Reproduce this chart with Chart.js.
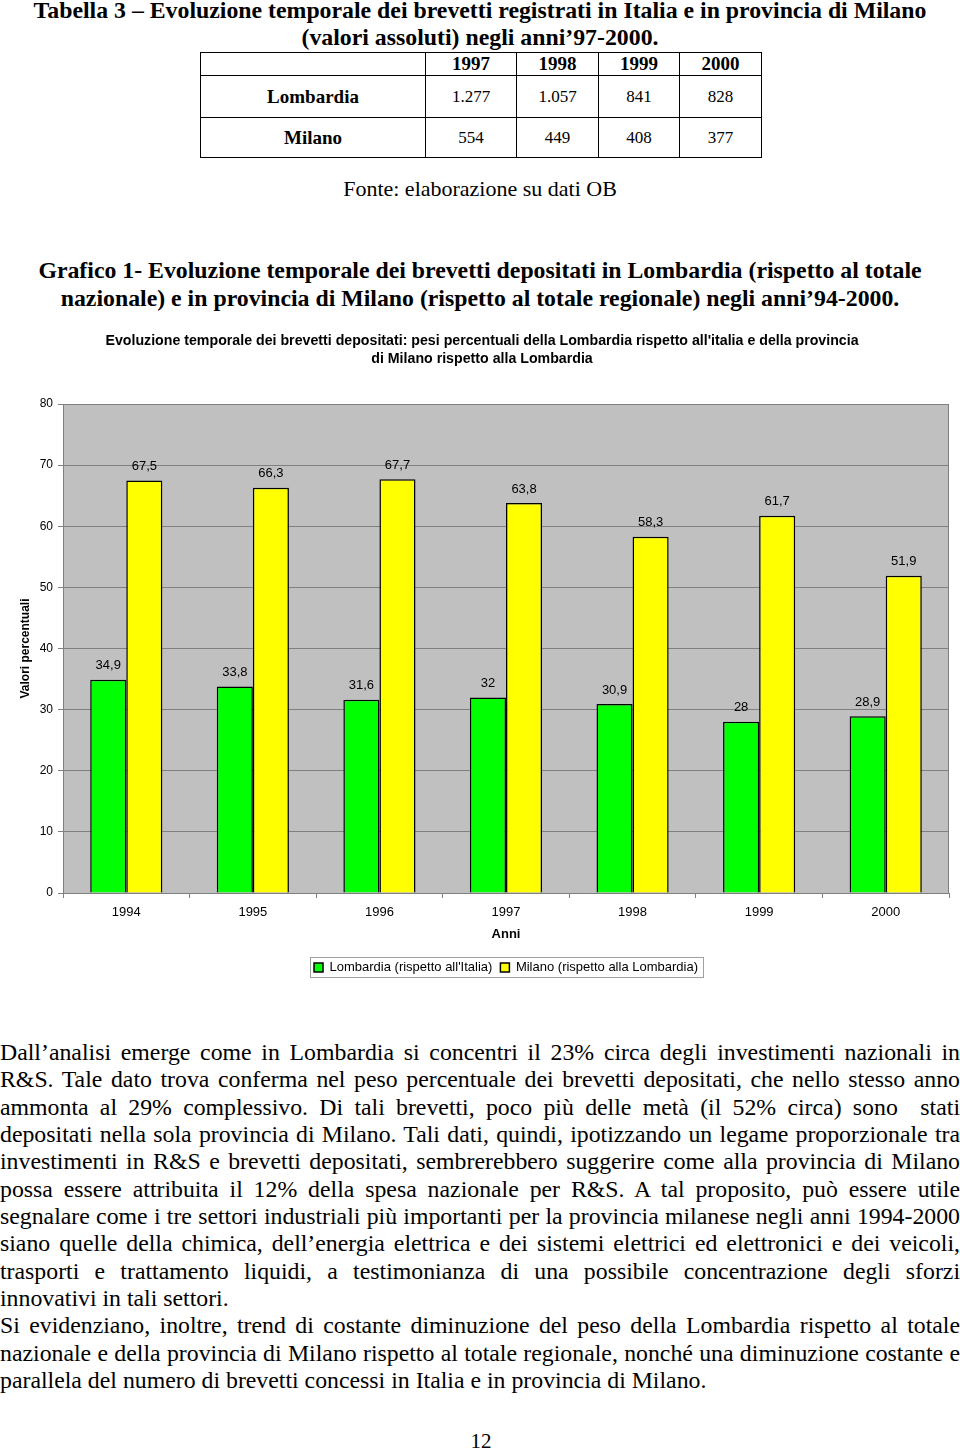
<!DOCTYPE html>
<html lang="it">
<head>
<meta charset="utf-8">
<title>Brevetti Lombardia e Milano</title>
<script src="https://cdn.jsdelivr.net/npm/chart.js@4.4.1/dist/chart.umd.min.js"></script>
<style>
  body { margin:0; width:960px; height:1451px; position:relative; background:#fff; color:#000;
         font-family:'Liberation Serif','Times New Roman',serif; overflow:hidden; }
  .head { position:absolute; left:0; width:960px; text-align:center; font-weight:bold;
          font-size:23.8px; line-height:27px; white-space:nowrap; }
  #tab { position:absolute; left:200px; top:52px; border-collapse:collapse; }
  #tab td { border:1px solid #000; text-align:center; padding:0; font-size:17px; }
  #tab td.rh { font-weight:bold; font-size:19px; }
  #tab tr.yr td { font-weight:bold; font-size:19px; }
  #fonte { position:absolute; left:0; width:960px; top:175px; text-align:center; font-size:22px; line-height:28px; }
  #chartBox { position:absolute; left:0; top:320px; }
  #testo { position:absolute; left:0; top:1039px; width:960px; font-size:23.8px; }
  #testo div { line-height:27.33px; height:27.33px; text-align:justify; text-align-last:justify; }
  #testo div.last { text-align-last:left; }
  #pag { position:absolute; left:0; width:962px; top:1427px; text-align:center; font-size:21px; line-height:28px; }
</style>
</head>
<body>
<div class="head" style="top:-3px">Tabella 3 – Evoluzione temporale dei brevetti registrati in Italia e in provincia di Milano<br>(valori assoluti) negli anni’97-2000.</div>
<table id="tab"></table>
<div id="fonte">Fonte: elaborazione su dati OB</div>
<div class="head" style="top:256px; line-height:28px">Grafico 1- Evoluzione temporale dei brevetti depositati in Lombardia (rispetto al totale<br>nazionale) e in provincia di Milano (rispetto al totale regionale) negli anni’94-2000.</div>
<div id="chartBox"><canvas id="barChart" width="960" height="680"></canvas></div>
<div id="testo">
  <div>Dall’analisi emerge come in Lombardia si concentri il 23% circa degli investimenti nazionali in</div>
  <div>R&amp;S. Tale dato trova conferma nel peso percentuale dei brevetti depositati, che nello stesso anno</div>
  <div>ammonta al 29% complessivo. Di tali brevetti, poco più delle metà (il 52% circa) sono &nbsp;stati</div>
  <div>depositati nella sola provincia di Milano. Tali dati, quindi, ipotizzando un legame proporzionale tra</div>
  <div>investimenti in R&amp;S e brevetti depositati, sembrerebbero suggerire come alla provincia di Milano</div>
  <div>possa essere attribuita il 12% della spesa nazionale per R&amp;S. A tal proposito, può essere utile</div>
  <div>segnalare come i tre settori industriali più importanti per la provincia milanese negli anni 1994-2000</div>
  <div>siano quelle della chimica, dell’energia elettrica e dei sistemi elettrici ed elettronici e dei veicoli,</div>
  <div>trasporti e trattamento liquidi, a testimonianza di una possibile concentrazione degli sforzi</div>
  <div class="last">innovativi in tali settori.</div>
  <div>Si evidenziano, inoltre, trend di costante diminuzione del peso della Lombardia rispetto al totale</div>
  <div>nazionale e della provincia di Milano rispetto al totale regionale, nonché una diminuzione costante e</div>
  <div class="last">parallela del numero di brevetti concessi in Italia e in provincia di Milano.</div>
</div>
<div id="pag">12</div>

<script>
'use strict'

// tabella 3: valori assoluti
const tableYears = ['1997', '1998', '1999', '2000'];
const lombardiaAbs = ['1.277', '1.057', '841', '828'];
const milanoAbs = ['554', '449', '408', '377'];

// grafico 1: pesi percentuali
const years = ['1994', '1995', '1996', '1997', '1998', '1999', '2000'];
const lombardiaPct = [34.9, 33.8, 31.6, 32, 30.9, 28, 28.9];
const milanoPct = [67.5, 66.3, 67.7, 63.8, 58.3, 61.7, 51.9];
const seriesNames = ["Lombardia (rispetto all'Italia)", 'Milano (rispetto alla Lombardia)'];
const chartTitle = ["Evoluzione temporale dei brevetti depositati: pesi percentuali della Lombardia rispetto all'italia e della provincia",
                    'di Milano rispetto alla Lombardia'];

function buildTable() {
  let table = document.getElementById('tab');
  let widths = [224, 90, 81, 80, 81];
  let heights = [21, 41, 39];
  let rows = [[''].concat(tableYears), ['Lombardia'].concat(lombardiaAbs), ['Milano'].concat(milanoAbs)];
  rows.forEach(function (r, i) {
    let tr = document.createElement('tr');
    if (i == 0) tr.className = 'yr';
    r.forEach(function (txt, j) {
      let td = document.createElement('td');
      td.textContent = txt;
      td.style.width = widths[j] + 'px';
      td.style.height = heights[i] + 'px';
      if (j == 0) td.className = 'rh';
      tr.appendChild(td);
    });
    table.appendChild(tr);
  });
}
buildTable();

Chart.defaults.font.family = "'Liberation Sans', Arial, sans-serif";
Chart.defaults.color = '#000';

const plotFrame = {
  id: 'plotFrame',
  afterUpdate(chart) {
    // la legenda sta centrata sotto l'area del grafico, non sulla tela
    let lg = chart.legend;
    let a = chart.chartArea;
    let shift = Math.round((a.left + a.right) / 2 - (lg.left + lg.right) / 2);
    lg.left += shift;
    lg.right += shift;
    lg.legendHitBoxes.forEach(b => { b.left += shift; });
  },
  beforeDraw(chart) {
    const {ctx, chartArea: a} = chart;
    ctx.save();
    ctx.fillStyle = '#c0c0c0';
    ctx.fillRect(a.left, a.top, a.right - a.left, a.bottom - a.top);
    ctx.restore();
  },
  afterDraw(chart) {
    const {ctx, chartArea: a} = chart;
    ctx.save();
    ctx.strokeStyle = '#808080';
    ctx.lineWidth = 1;
    ctx.strokeRect(a.left + 0.5, a.top + 0.5, a.right - a.left - 1, a.bottom - a.top);
    // cornice della legenda
    let boxes = chart.legend.legendHitBoxes;
    let left = Math.min(...boxes.map(b => b.left)) - 4;
    let right = Math.max(...boxes.map(b => b.left + b.width)) + 5;
    let top = boxes[0].top - 4;
    ctx.strokeStyle = '#a0a0a0';
    ctx.strokeRect(Math.round(left) + 0.5, Math.round(top) + 0.5, Math.round(right - left), boxes[0].height + 7);
    ctx.restore();
  }
};

const valueLabels = {
  id: 'valueLabels',
  afterDatasetsDraw(chart) {
    const ctx = chart.ctx;
    ctx.save();
    ctx.font = "13px 'Liberation Sans', Arial, sans-serif";
    ctx.fillStyle = '#000';
    ctx.textAlign = 'center';
    ctx.textBaseline = 'middle';
    chart.data.datasets.forEach(function (ds, i) {
      chart.getDatasetMeta(i).data.forEach(function (bar, j) {
        ctx.fillText(String(ds.data[j]).replace('.', ','), bar.x, bar.y - 14);
      });
    });
    ctx.restore();
  }
};

const chartCtx = document.getElementById('barChart').getContext('2d');
const barChart = new Chart(chartCtx, {
  type: 'bar',
  data: {
    labels: years,
    datasets: [{
      label: seriesNames[0],
      data: lombardiaPct,
      backgroundColor: '#00ff00',
      borderColor: '#000',
      borderWidth: 1.5
    }, {
      label: seriesNames[1],
      data: milanoPct,
      backgroundColor: '#ffff00',
      borderColor: '#000',
      borderWidth: 1.5
    }]
  },
  options: {
    responsive: false,
    animation: false,
    layout: { padding: { top: 8, left: 15, right: 11, bottom: 16 } },
    datasets: { bar: { categoryPercentage: 0.57, barPercentage: 1 } },
    plugins: {
      title: {
        display: true,
        text: chartTitle,
        font: { size: 14.2, weight: 'bold', lineHeight: 18 / 14.2 },
        padding: { top: 4, bottom: 36 }
      },
      legend: {
        position: 'bottom',
        labels: { font: { size: 13 }, boxWidth: 9, boxHeight: 9, padding: 8 }
      },
      tooltip: { enabled: false }
    },
    scales: {
      x: {
        grid: { offset: true, drawOnChartArea: false, tickLength: 5, color: '#808080' },
        border: { color: '#808080' },
        ticks: { font: { size: 13 }, padding: 7, maxRotation: 0 },
        title: { display: true, text: 'Anni', font: { size: 13, weight: 'bold' }, padding: { top: 4, bottom: 11 } },
        afterFit(scale) { scale.height = 60; }
      },
      y: {
        min: 0,
        max: 80,
        ticks: { stepSize: 10, font: { size: 12 }, padding: 5 },
        grid: { color: '#808080', tickLength: 5 },
        border: { color: '#808080' },
        title: { display: true, text: 'Valori percentuali', font: { size: 12, weight: 'bold' }, padding: { top: 3, bottom: 4 } },
        afterFit(scale) { scale.width = 48; }
      }
    }
  },
  plugins: [plotFrame, valueLabels]
});
</script>
</body>
</html>
